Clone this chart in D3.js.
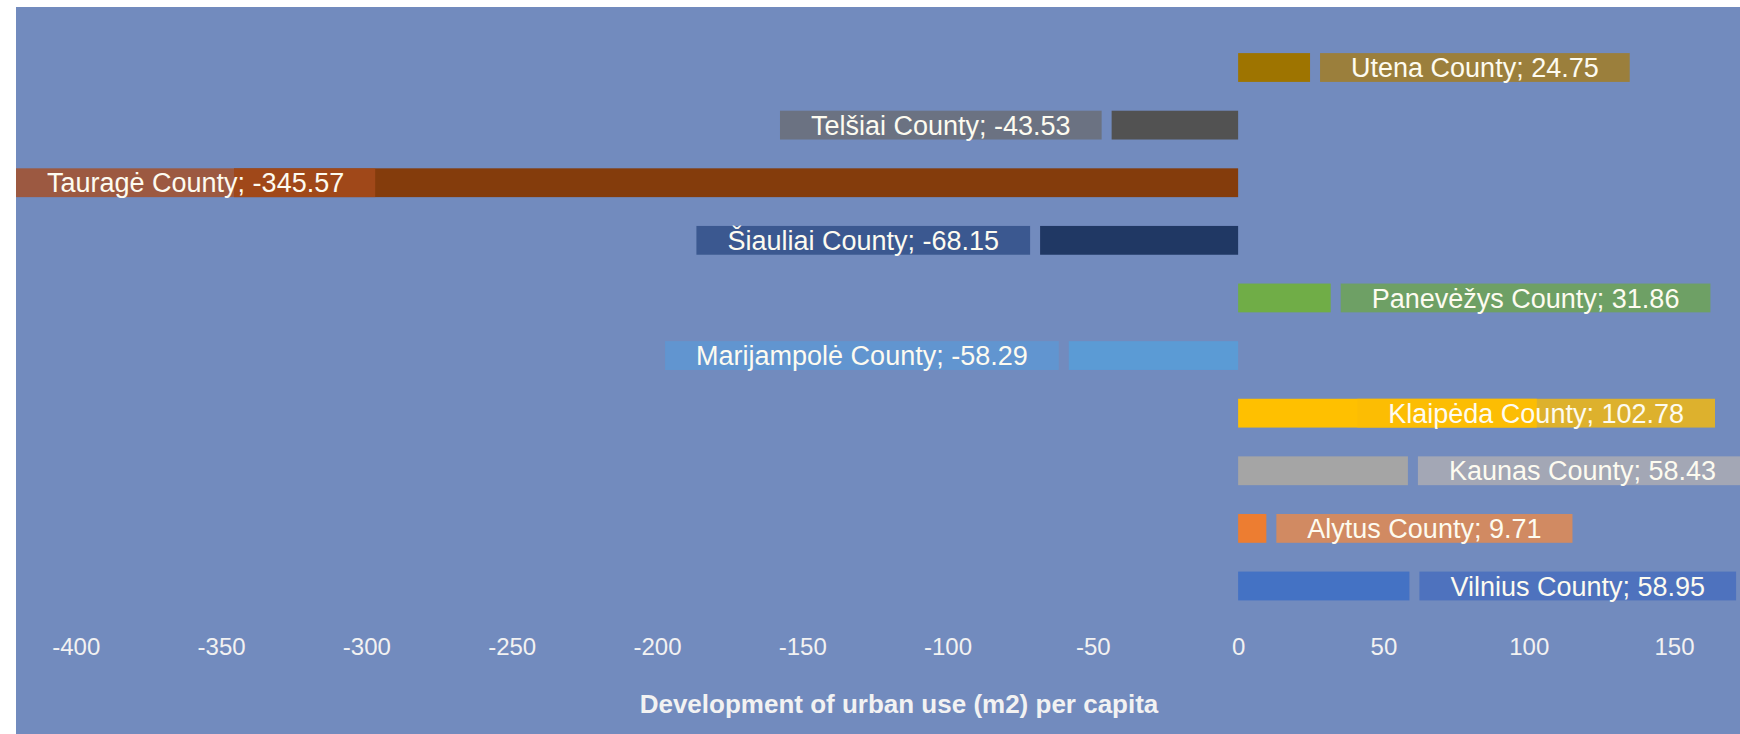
<!DOCTYPE html>
<html>
<head>
<meta charset="utf-8">
<script src="https://cdn.jsdelivr.net/npm/d3@7"></script>
<style>
  body { margin: 0; background: #fff; }
  text { font-family: "Liberation Sans", Arial, sans-serif; }
</style>
</head>
<body>
<svg id="chart" width="1740" height="734"></svg>
<script>
var counties = ["Utena County", "Telšiai County", "Tauragė County", "Šiauliai County", "Panevėžys County",
    "Marijampolė County", "Klaipėda County", "Kaunas County", "Alytus County", "Vilnius County"];
var values = [24.75, -43.53, -345.57, -68.15, 31.86, -58.29, 102.78, 58.43, 9.71, 58.95];
var xTicks = [-400, -350, -300, -250, -200, -150, -100, -50, 0, 50, 100, 150];
var colors = ["#9e7400", "#525252", "#843c0c", "#203864", "#70ad47",
    "#5b9bd5", "#ffc000", "#a5a5a5", "#ed7d31", "#4472c4"];
// fill of the label boxes (drawn semi-transparent on top)
var labelColors = ["#a77c17", "#696b71", "#a84b1e", "#2c4a83", "#6da64c",
    "#5c99d5", "#fbbc04", "#b1b0b2", "#ec8a48", "#446cbe"];

var data = counties.map(function(c, i) {
    return {name: c, value: values[i], color: colors[i], label: labelColors[i]};
});

var svg = d3.select("#chart"),
    plotLeft = 16, plotTop = 7, plotRight = 1715, chartRight = 1760;

svg.append("rect")
    .attr("x", plotLeft)
    .attr("y", plotTop)
    .attr("width", 1740 - plotLeft)
    .attr("height", 734 - plotTop)
    .attr("fill", "#728bbe");

var x = d3.scaleLinear()
    .domain([-400, 150])
    .range([75.8, 1674]);

var y = d3.scaleBand()
    .domain(counties)
    .range([38.7, 614.8])
    .paddingInner(0.5)
    .paddingOuter(0.25);

// bars
svg.append("g")
    .selectAll("rect")
    .data(data)
    .enter().append("rect")
    .attr("x", function(d) { return x(Math.min(0, d.value)); })
    .attr("y", function(d) { return y(d.name); })
    .attr("width", function(d) { return Math.abs(x(d.value) - x(0)); })
    .attr("height", y.bandwidth())
    .attr("fill", function(d) { return d.color; });

// data labels with a filled box
var labels = svg.append("g")
    .selectAll("g")
    .data(data)
    .enter().append("g");

var boxes = labels.append("rect")
    .attr("y", function(d) { return y(d.name); })
    .attr("height", y.bandwidth())
    .attr("fill", function(d) { return d.label; })
    .attr("fill-opacity", 0.78);

var texts = labels.append("text")
    .attr("y", function(d) { return y(d.name) + y.bandwidth() / 2; })
    .attr("dy", "0.36em")
    .attr("text-anchor", "middle")
    .attr("font-size", 27)
    .attr("fill", "#fdfbf0")
    .text(function(d) { return d.name + "; " + d.value.toFixed(2); });

texts.each(function(d) {
    var w = this.getComputedTextLength() + 62,
        gap = 10,
        left;
    if (d.value >= 0) {
        left = x(d.value) + gap;
        if (left + w > chartRight) left = plotRight - w;
    } else {
        left = x(d.value) - gap - w;
        if (left < plotLeft) left = plotLeft;
    }
    d.boxLeft = left;
    d.boxWidth = w;
    d3.select(this).attr("x", left + w / 2);
});

boxes
    .attr("x", function(d) { return d.boxLeft; })
    .attr("width", function(d) { return d.boxWidth; });

// x axis
var axis = svg.append("g")
    .attr("transform", "translate(0,638)")
    .call(d3.axisBottom(x)
        .tickValues(xTicks)
        .tickFormat(function(d) { return String(d); })
        .tickSize(0)
        .tickPadding(0));

axis.select(".domain").remove();
axis.selectAll("text")
    .attr("font-family", "Liberation Sans, Arial, sans-serif")
    .attr("font-size", 24)
    .attr("fill", "#f2f2f2")
    .attr("dy", "0.71em");

svg.append("text")
    .attr("x", 899)
    .attr("y", 713)
    .attr("text-anchor", "middle")
    .attr("font-size", 26)
    .attr("font-weight", "bold")
    .attr("fill", "#f2f2f2")
    .text("Development of urban use (m2) per capita");
</script>
</body>
</html>
